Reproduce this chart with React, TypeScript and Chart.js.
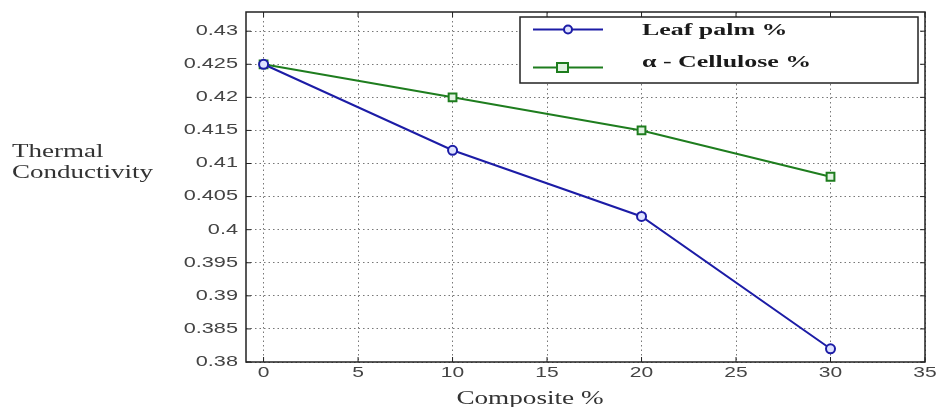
import React, { useEffect, useRef } from "react";
import { Chart, registerables } from "chart.js";

Chart.register(...registerables);

const composite = [0, 10, 20, 30];
const leafPalm = [0.425, 0.412, 0.402, 0.382];
const cellulose = [0.425, 0.42, 0.415, 0.408];
const xTicks = [0, 5, 10, 15, 20, 25, 30, 35];
const yTicks = [0.38, 0.385, 0.39, 0.395, 0.4, 0.405, 0.41, 0.415, 0.42, 0.425, 0.43];
const seriesNames = ["Leaf palm %", "α - Cellulose %"];
const yTitleLines = ["Thermal", "Conductivity"];
const xTitle = "Composite %";

const BLUE = "#1c1ca6";
const GREEN = "#1e7d1e";

function stretchedText(ctx: any, text: string, x: number, y: number, sx: number, align: string) {
  ctx.save();
  ctx.translate(x, y);
  ctx.scale(sx, 1);
  ctx.textAlign = align;
  ctx.fillText(text, 0, 0);
  ctx.restore();
}

const overlay = {
  id: "overlay",
  afterDraw(chart: any) {
    const { ctx, chartArea: a, scales } = chart;
    const xs = scales.x;
    const ys = scales.y;
    ctx.save();
    // frame
    ctx.strokeStyle = "#222";
    ctx.lineWidth = 1.5;
    ctx.strokeRect(a.left, a.top, a.right - a.left, a.bottom - a.top);
    // inward ticks
    ctx.lineWidth = 1;
    ctx.beginPath();
    xTicks.forEach((v) => {
      const px = xs.getPixelForValue(v);
      ctx.moveTo(px, a.bottom);
      ctx.lineTo(px, a.bottom - 5);
      ctx.moveTo(px, a.top);
      ctx.lineTo(px, a.top + 5);
    });
    yTicks.forEach((v) => {
      const py = ys.getPixelForValue(v);
      ctx.moveTo(a.left, py);
      ctx.lineTo(a.left + 5, py);
      ctx.moveTo(a.right, py);
      ctx.lineTo(a.right - 5, py);
    });
    ctx.stroke();

    // tick labels
    ctx.fillStyle = "#444";
    ctx.font = "14px 'Liberation Sans', Arial, sans-serif";
    ctx.textBaseline = "middle";
    xTicks.forEach((v) => {
      stretchedText(ctx, String(v), xs.getPixelForValue(v), a.bottom + 11, 1.5, "center");
    });
    yTicks.forEach((v) => {
      const label = String(Math.round(v * 1000) / 1000);
      stretchedText(ctx, label, a.left - 8, ys.getPixelForValue(v), 1.55, "right");
    });

    // legend
    const lx = 520, ly = 17, lw = 398, lh = 66;
    ctx.fillStyle = "#fff";
    ctx.fillRect(lx, ly, lw, lh);
    ctx.strokeStyle = "#222";
    ctx.lineWidth = 1.5;
    ctx.strokeRect(lx, ly, lw, lh);
    const rows = [
      { ly: 29.5, ty: 31, color: BLUE, name: seriesNames[0], shape: "circle" },
      { ly: 67.5, ty: 63, color: GREEN, name: seriesNames[1], shape: "square" },
    ];
    rows.forEach((r) => {
      ctx.strokeStyle = r.color;
      ctx.lineWidth = 2;
      ctx.beginPath();
      ctx.moveTo(533, r.ly);
      ctx.lineTo(603, r.ly);
      ctx.stroke();
      ctx.fillStyle = r.shape === "circle" ? "#dfe3ff" : "#e3f3e3";
      ctx.beginPath();
      if (r.shape === "circle") {
        ctx.arc(568, r.ly, 4, 0, Math.PI * 2);
      } else {
        ctx.rect(557, r.ly - 4.5, 11, 9);
      }
      ctx.fill();
      ctx.stroke();
      ctx.fillStyle = "#1a1a1a";
      ctx.font = "bold 16px 'Liberation Serif', serif";
      ctx.textBaseline = "middle";
      stretchedText(ctx, r.name, 642, r.ty, 1.62, "left");
    });

    // axis titles
    ctx.fillStyle = "#333";
    ctx.font = "18px 'Liberation Serif', serif";
    ctx.textBaseline = "alphabetic";
    stretchedText(ctx, yTitleLines[0], 12, 157, 1.5, "left");
    stretchedText(ctx, yTitleLines[1], 12, 178, 1.5, "left");
    ctx.font = "19px 'Liberation Serif', serif";
    stretchedText(ctx, xTitle, 530, 404, 1.43, "center");
    ctx.restore();
  },
};

export default function App() {
  const ref = useRef<HTMLCanvasElement>(null);
  useEffect(() => {
    if (!ref.current) return;
    const chart = new Chart(ref.current, {
      type: "line",
      data: {
        datasets: [
          {
            label: seriesNames[0],
            data: composite.map((x, i) => ({ x, y: leafPalm[i] })),
            borderColor: BLUE,
            backgroundColor: "#fff",
            borderWidth: 2,
            pointStyle: "circle",
            pointRadius: 4.5,
            pointBorderWidth: 2,
            pointBorderColor: BLUE,
            pointBackgroundColor: "#dfe3ff",
          },
          {
            label: seriesNames[1],
            data: composite.map((x, i) => ({ x, y: cellulose[i] })),
            borderColor: GREEN,
            backgroundColor: "#fff",
            borderWidth: 2,
            pointStyle: "rect",
            pointRadius: 5.5,
            pointBorderWidth: 2,
            pointBorderColor: GREEN,
            pointBackgroundColor: "#e3f3e3",
          },
        ],
      },
      options: {
        animation: false,
        responsive: false,
        maintainAspectRatio: false,
        layout: { padding: { top: 12, right: 12, left: 0, bottom: 0 } },
        plugins: { legend: { display: false }, tooltip: { enabled: false } },
        scales: {
          x: {
            type: "linear",
            min: -0.93,
            max: 35,
            afterBuildTicks: (s: any) => {
              s.ticks = xTicks.map((v) => ({ value: v }));
            },
            afterFit: (s: any) => {
              s.height = 45;
              s.paddingLeft = 0;
              s.paddingRight = 0;
            },
            ticks: { display: false },
            grid: { color: "#777", lineWidth: 1, drawTicks: false },
            border: { display: false, dash: [1.5, 3] },
          },
          y: {
            type: "linear",
            min: 0.38,
            max: 0.4329,
            afterBuildTicks: (s: any) => {
              s.ticks = yTicks.map((v) => ({ value: v }));
            },
            afterFit: (s: any) => {
              s.width = 246;
            },
            ticks: { display: false },
            grid: { color: "#777", lineWidth: 1, drawTicks: false },
            border: { display: false, dash: [1.5, 3] },
          },
        },
      },
      plugins: [overlay],
    });
    return () => chart.destroy();
  }, []);
  return (
    <div style={{ position: "fixed", left: 0, top: 0, width: 937, height: 407, background: "#fff" }}>
      <canvas ref={ref} width={937} height={407} style={{ display: "block", width: 937, height: 407 }} />
    </div>
  );
}
